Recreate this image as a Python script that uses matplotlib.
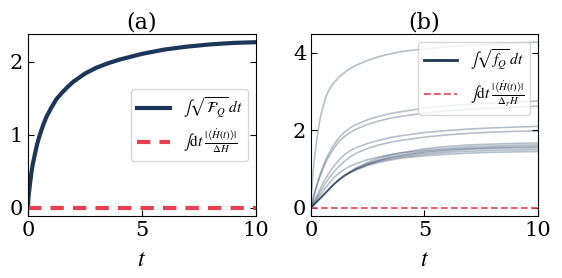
import matplotlib
matplotlib.use("Agg")
import matplotlib.pyplot as plt

plt.rcParams['font.family'] = ['DejaVu Serif']
plt.rcParams['mathtext.fontset'] = 'stix'

# time grid (read positions)
t = [0, 0.02, 0.05, 0.1, 0.15, 0.2, 0.3, 0.4, 0.5, 0.65, 0.8, 1, 1.25, 1.5, 1.75,
     2, 2.5, 3, 3.5, 4, 5, 6, 7, 8, 9, 10]

# panel (a)
fq_a = [0, 0.14, 0.22, 0.36, 0.48, 0.58, 0.73, 0.87, 0.98, 1.12, 1.24, 1.36, 1.49, 1.58, 1.66,
        1.73, 1.84, 1.92, 1.98, 2.03, 2.11, 2.17, 2.21, 2.24, 2.26, 2.27]
bound_a = [0] * len(t)

# panel (b): individual curves
curve_b1 = [0, 0.35, 0.6, 0.95, 1.25, 1.5, 1.95, 2.3, 2.55, 2.85, 3.05, 3.22, 3.38, 3.5, 3.6,
            3.68, 3.8, 3.9, 3.97, 4.03, 4.1, 4.15, 4.19, 4.22, 4.25, 4.27]
curve_b2 = [0, 0.05, 0.12, 0.25, 0.37, 0.48, 0.68, 0.86, 1.02, 1.24, 1.42, 1.62, 1.82, 1.96, 2.07,
            2.15, 2.27, 2.36, 2.43, 2.48, 2.57, 2.63, 2.67, 2.70, 2.73, 2.75]
curve_b3 = [0, 0.05, 0.11, 0.23, 0.35, 0.45, 0.64, 0.81, 0.96, 1.17, 1.34, 1.53, 1.72, 1.85, 1.95,
            2.03, 2.15, 2.24, 2.31, 2.36, 2.44, 2.50, 2.54, 2.57, 2.60, 2.62]
curve_b4 = [0, 0.02, 0.06, 0.12, 0.18, 0.24, 0.36, 0.48, 0.6, 0.76, 0.9, 1.07, 1.24, 1.38, 1.48,
            1.55, 1.66, 1.74, 1.81, 1.86, 1.94, 1.99, 2.03, 2.06, 2.08, 2.10]
curve_b5 = [0, 0.02, 0.05, 0.10, 0.15, 0.20, 0.30, 0.40, 0.50, 0.64, 0.77, 0.92, 1.08, 1.21, 1.32,
            1.41, 1.53, 1.62, 1.69, 1.74, 1.82, 1.88, 1.92, 1.95, 1.97, 1.98]
curve_b6 = [0, 0.012, 0.03, 0.06, 0.09, 0.12, 0.18, 0.24, 0.3, 0.39, 0.48, 0.6, 0.73, 0.84, 0.94,
            1.03, 1.17, 1.28, 1.36, 1.42, 1.52, 1.58, 1.62, 1.64, 1.66, 1.67]
curve_b7 = [0, 0.015, 0.04, 0.08, 0.12, 0.16, 0.24, 0.32, 0.4, 0.52, 0.63, 0.77, 0.9, 1.0, 1.08,
            1.14, 1.24, 1.31, 1.37, 1.41, 1.48, 1.53, 1.57, 1.59, 1.61, 1.62]
curve_b8 = [0, 0.012, 0.03, 0.06, 0.09, 0.12, 0.18, 0.24, 0.3, 0.39, 0.48, 0.6, 0.73, 0.84, 0.93,
            1.01, 1.14, 1.23, 1.31, 1.36, 1.45, 1.50, 1.53, 1.55, 1.57, 1.58]
curve_b9 = [0, 0.012, 0.03, 0.06, 0.09, 0.12, 0.18, 0.24, 0.3, 0.39, 0.48, 0.6, 0.73, 0.84, 0.92,
            1.0, 1.12, 1.22, 1.29, 1.34, 1.42, 1.47, 1.51, 1.53, 1.54, 1.55]
curve_b10 = [0, 0.012, 0.03, 0.06, 0.09, 0.12, 0.18, 0.24, 0.3, 0.39, 0.48, 0.6, 0.73, 0.84, 0.92,
             0.99, 1.11, 1.2, 1.26, 1.31, 1.38, 1.43, 1.46, 1.48, 1.49, 1.50]
curve_b11 = [0, 0.012, 0.03, 0.06, 0.09, 0.12, 0.18, 0.24, 0.3, 0.39, 0.48, 0.6, 0.73, 0.83, 0.91,
             0.98, 1.09, 1.17, 1.23, 1.28, 1.34, 1.38, 1.41, 1.43, 1.44, 1.45]
curves_b = [curve_b1, curve_b2, curve_b3, curve_b4, curve_b5, curve_b6,
            curve_b7, curve_b8, curve_b9, curve_b10, curve_b11]
bound_b = [0] * len(t)

navy = '#1c365a'
red = '#e8404f'

fig = plt.figure(figsize=(5.62, 2.78), dpi=100)
ax1 = fig.add_axes([0.0498, 0.223, 0.4057, 0.655])
ax2 = fig.add_axes([0.5534, 0.223, 0.4036, 0.655])

ax1.plot(t, fq_a, color=navy, lw=3, label=r'$\int\sqrt{\mathcal{F}_Q}\,dt$')
ax1.plot(t, bound_a, color=red, lw=3, ls=(0, (3.2, 2.2)),
         label=r'$\int\mathrm{d}t\;\frac{|\langle\dot{H}(t)\rangle|}{\Delta H}$')
ax1.set_xlim(0, 10)
ax1.set_title('(a)', fontsize=16, pad=4)
ax1.legend(loc='center right', fontsize=11, handlelength=2.2)

for c in curves_b:
    ax2.plot(t, c, color=navy, lw=1.2, alpha=0.32)
ax2.plot([], [], color=navy, lw=2, label=r'$\int\sqrt{f_Q}\,dt$')
ax2.plot(t, bound_b, color=red, lw=1.2, ls=(0, (4, 2)),
         label=r'$\int\mathrm{d}t\;\frac{|\langle\dot{H}(t)\rangle|}{\Delta_\gamma H}$')
ax2.set_xlim(0, 10)
ax2.set_title('(b)', fontsize=16, pad=4)
ax2.legend(loc='upper right', fontsize=11, handlelength=2.2)

for ax in (ax1, ax2):
    ax.set_xlabel(r'$t$', fontsize=17, labelpad=6)
    ax.set_xticks([0, 5, 10])
    ax.tick_params(direction='in', right=True, labelsize=15, length=4)

ax1.set_yticks([0, 1, 2])
ax2.set_yticks([0, 2, 4])

fig.savefig('out.png', dpi=100)
